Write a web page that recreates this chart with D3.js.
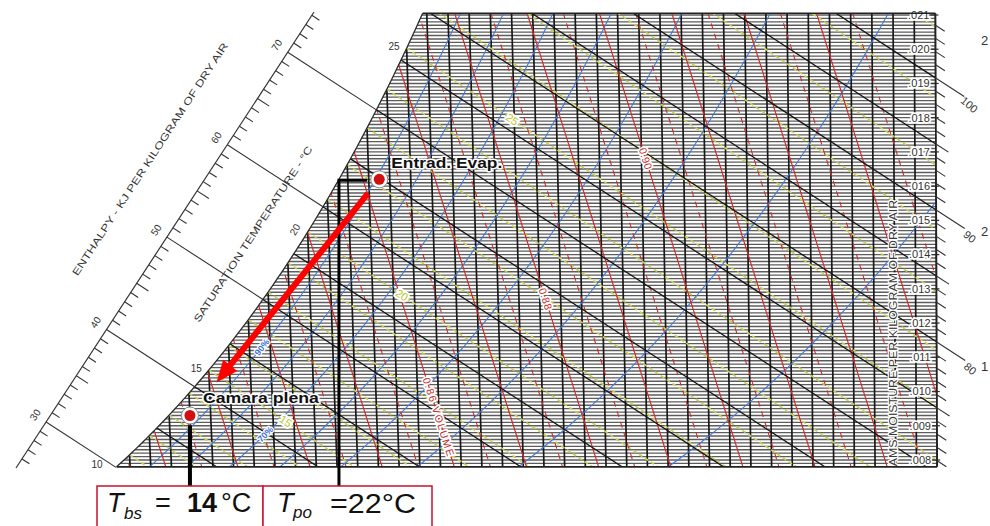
<!DOCTYPE html>
<html>
<head>
<meta charset="utf-8">
<script src="https://cdn.jsdelivr.net/npm/d3@7"></script>
<style>
  body { margin: 0; background: #fff; }
  svg { display: block; }
  text { font-family: "Liberation Sans", Arial, sans-serif; }
</style>
</head>
<body>
<svg id="chart" width="990" height="526"></svg>
<script>
// ---------- chart values ----------
const dryBulbC = d3.range(10, 51);                       // isotherms, every 1 °C
const humidityGrid = d3.range(78, 211).map(i => i / 10000); // fine rules, every 0.0001 kg/kg
const humidityTicks = [0.008, 0.009, 0.010, 0.011, 0.012, 0.013, 0.014, 0.015, 0.016, 0.017, 0.018, 0.019, 0.020, 0.021];
const humidityTickLabels = [".008", ".009", ".010", ".011", ".012", ".013", ".014", ".015", ".016", ".017", ".018", ".019", ".020", ".021"];
const enthalpyLines = [30, 35, 40, 45, 50, 55, 60, 65, 70, 75, 80, 85, 90, 95, 100, 105];
const enthalpyScaleLeft = d3.range(25, 81);               // kJ/kg ticks on the left scale
const enthalpyLabelsLeft = [30, 40, 50, 60, 70];
const enthalpyScaleRight = d3.range(70, 106);             // kJ/kg ticks on the right scale
const enthalpyLabelsRight = [80, 90, 100];
const rhValues = [0.1, 0.2, 0.3, 0.4, 0.5, 0.6, 0.7, 0.8, 0.9];
const rhLabelValues = [0.9, 0.7];
const rhLabelText = ["90%", "70%"];
const volumeSolid = [0.81, 0.82, 0.83, 0.84, 0.85, 0.86, 0.87, 0.88, 0.89, 0.90, 0.91, 0.92, 0.93];
const volumeDashed = [0.815, 0.825, 0.835, 0.845, 0.855, 0.865, 0.875, 0.885, 0.895, 0.905, 0.915, 0.925, 0.935];
const volumeLabelValues = [0.86, 0.88, 0.90];
const volumeLabelText = ["0.86 VOLUME", "0.88", "0.90"];
const wetBulbC = d3.range(8, 34);
const wetBulbLabelValues = [15, 20, 25];
const satLabelValues = [10, 15, 20, 25];
const rightCutLabels = ["2", "2", "1"];

// process states
const stateNames = ["Entrad. Evap.", "Camara plena"];
const stateTdb = [23.5, 14];
const stateW = [0.0162, 0.0093];
const tbsValue = 14;

// ---------- psychrometrics (sea level) ----------
const P = 101.325;
const pws = T => 0.61094 * Math.exp(17.625 * T / (T + 243.04));
const wSat = T => 0.622 * pws(T) / (P - pws(T));
const wRH = (T, rh) => 0.622 * rh * pws(T) / (P - rh * pws(T));
const wEnth = (h, T) => (h - 1.006 * T) / (2501 + 1.86 * T);
const wWet = (T, tw) => ((2501 - 2.326 * tw) * wSat(tw) - 1.006 * (T - tw)) / (2501 + 1.86 * T - 4.186 * tw);
const tVol = (v, W) => v * P / (0.287042 * (1 + 1.6078 * W)) - 273.15;
const hSat = T => 1.006 * T + wSat(T) * (2501 + 1.86 * T);
function bisect(f, target, lo, hi) {
  for (let i = 0; i < 60; i++) { const m = (lo + hi) / 2; if (f(m) < target) lo = m; else hi = m; }
  return (lo + hi) / 2;
}
const tSat = W => bisect(wSat, W, -20, 70);
const tSatH = h => bisect(hSat, h, -20, 70);

// ---------- scales (oblique enthalpy construction) ----------
const yScale = d3.scaleLinear().domain([0.008, 0.021]).range([460, 15]);
const xScale = d3.scaleLinear().domain([10, 50]).range([122.2, 938.2]);
const kT = (xScale(50) - xScale(10)) / 40;
const skew = kT * 1.86 / 1.006;
const T_REF = 53.5;
const px = (T, W) => xScale(T) + skew * W * (T - T_REF);
const py = W => yScale(W);
const pt = (T, W) => [px(T, W), py(W)];

const W_BOT = 0.0078, W_TOP = 0.02105, T_MAX = 50;

const svg = d3.select("#chart");
const line = d3.line();
const deg = (a, b) => Math.atan2(b[1] - a[1], b[0] - a[0]) * 180 / Math.PI;
function halo(sel, w) {
  return sel.attr("paint-order", "stroke").attr("stroke", "#fff")
    .attr("stroke-width", w).attr("stroke-linejoin", "round");
}

// grid region bounded by the saturation curve
const tBot = tSat(W_BOT), tTop = tSat(W_TOP);
const satPts = d3.range(0, 81).map(i => { const T = tBot + (tTop - tBot) * i / 80; return pt(T, wSat(T)); });
const clipPts = satPts.concat([pt(T_MAX, W_TOP), pt(T_MAX, W_BOT)]);
svg.append("defs").append("clipPath").attr("id", "gridClip")
  .append("path").attr("d", line(clipPts) + "Z");

const grid = svg.append("g").attr("clip-path", "url(#gridClip)");

// fine humidity-ratio rules
grid.append("g").selectAll("line").data(humidityGrid).join("line")
  .attr("x1", 60).attr("x2", 960)
  .attr("y1", d => py(d)).attr("y2", d => py(d))
  .attr("stroke", "#5c5c5c").attr("stroke-width", 1.35);

// dry-bulb isotherms
grid.append("g").selectAll("line").data(dryBulbC).join("line")
  .attr("x1", d => px(d, W_BOT)).attr("y1", py(W_BOT))
  .attr("x2", d => px(d, W_TOP)).attr("y2", py(W_TOP))
  .attr("stroke", "#1a1a1a").attr("stroke-width", 1.7);

// wet-bulb lines
grid.append("g").selectAll("path").data(wetBulbC).join("path")
  .attr("d", tw => line(d3.range(0, 31).map(i => { const T = tw + (T_MAX + 2 - tw) * i / 30; return pt(T, wWet(T, tw)); })))
  .attr("fill", "none").attr("stroke", "#c6cf52").attr("stroke-width", 1.7)
  .attr("stroke-dasharray", "4 3");

// relative humidity curves
grid.append("g").selectAll("path").data(rhValues).join("path")
  .attr("d", rh => line(d3.range(0, 61).map(i => { const T = 5 + 48 * i / 60; return pt(T, wRH(T, rh)); })))
  .attr("fill", "none").attr("stroke", "#4277d6").attr("stroke-width", 1.1);

// specific volume lines
const volPath = v => line(d3.range(0, 21).map(i => { const W = W_BOT - 0.001 + (W_TOP - W_BOT + 0.002) * i / 20; return pt(tVol(v, W), W); }));
grid.append("g").selectAll("path").data(volumeSolid).join("path")
  .attr("d", volPath).attr("fill", "none").attr("stroke", "#cf2a2a").attr("stroke-width", 1.2);
grid.append("g").selectAll("path").data(volumeDashed).join("path")
  .attr("d", volPath).attr("fill", "none").attr("stroke", "#cf2a2a").attr("stroke-width", 1.1)
  .attr("stroke-dasharray", "6 5");

// enthalpy lines
grid.append("g").selectAll("line").data(enthalpyLines).join("line")
  .attr("x1", h => pt(-5, wEnth(h, -5))[0]).attr("y1", h => pt(-5, wEnth(h, -5))[1])
  .attr("x2", h => pt(60, wEnth(h, 60))[0]).attr("y2", h => pt(60, wEnth(h, 60))[1])
  .attr("stroke", "#151515").attr("stroke-width", 1.3);

// volume labels
volumeLabelValues.forEach((v, i) => {
  const W = [0.0104, 0.0127, 0.0168][i];
  const a = pt(tVol(v, W), W), b = pt(tVol(v, W - 0.0005), W - 0.0005);
  const t = grid.append("text").attr("transform", `translate(${a[0]},${a[1]}) rotate(${deg(a, b)})`)
    .attr("font-size", 10.5).attr("fill", "#c92a2a").attr("letter-spacing", i === 0 ? 1.4 : 0.5)
    .attr("text-anchor", i === 0 ? "start" : "middle").attr("dy", "0.35em").text(volumeLabelText[i]);
  halo(t, 3.5);
});

// relative humidity labels
rhLabelValues.forEach((rh, i) => {
  const T = 17.6;
  const a = pt(T, wRH(T, rh)), b = pt(T + 0.5, wRH(T + 0.5, rh));
  const t = grid.append("text").attr("transform", `translate(${a[0]},${a[1]}) rotate(${deg(a, b)})`)
    .attr("font-size", 9).attr("font-weight", "bold").attr("fill", "#3f72d6")
    .attr("text-anchor", "middle").attr("dy", "0.35em").text(rhLabelText[i]);
  halo(t, 2.5);
});

// wet-bulb labels
const wbLabelOffset = [3.6, 4.4, 4.9];
wetBulbLabelValues.forEach((tw, i) => {
  const T = tw + wbLabelOffset[i];
  const a = pt(T, wWet(T, tw)), b = pt(T + 0.5, wWet(T + 0.5, tw));
  const t = grid.append("text").attr("transform", `translate(${a[0]},${a[1]}) rotate(${deg(a, b)})`)
    .attr("font-size", 11).attr("fill", "#b9c62e")
    .attr("text-anchor", "middle").attr("dy", "0.35em").text(tw);
  halo(t, 4);
});

// humidity ratio axis title
const hrTitle = grid.append("text")
  .attr("transform", `translate(${px(T_MAX, W_BOT) - 40},${py(W_BOT) + 18}) rotate(-90)`)
  .attr("font-size", 10.5).attr("fill", "#3a3a3a")
  .attr("textLength", 285).attr("lengthAdjust", "spacingAndGlyphs")
  .text("GRAMS MOISTURE PER KILOGRAM OF DRY AIR");
halo(hrTitle, 2.5);

// humidity ratio tick labels
humidityTicks.forEach((W, i) => {
  const xr = px(T_MAX, W);
  const t = svg.append("text").attr("x", xr - 6).attr("y", py(W)).attr("dy", "0.35em")
    .attr("text-anchor", "end").attr("font-size", 11).attr("fill", "#333")
    .text(humidityTickLabels[i]);
  halo(t, 3.5);
  svg.append("line").attr("x1", xr - 5).attr("x2", xr + 3).attr("y1", py(W)).attr("y2", py(W))
    .attr("stroke", "#333").attr("stroke-width", 1.2);
});

// grid outline
svg.append("path").attr("d", line(satPts)).attr("fill", "none").attr("stroke", "#2a2a2a").attr("stroke-width", 1.3);
svg.append("line").attr("x1", pt(tTop, W_TOP)[0]).attr("y1", py(W_TOP)).attr("x2", px(T_MAX, W_TOP)).attr("y2", py(W_TOP))
  .attr("stroke", "#222").attr("stroke-width", 1.6);
svg.append("line").attr("x1", pt(tBot, W_BOT)[0]).attr("y1", py(W_BOT)).attr("x2", px(T_MAX, W_BOT)).attr("y2", py(W_BOT))
  .attr("stroke", "#222").attr("stroke-width", 1.6);
svg.append("line").attr("x1", px(T_MAX, W_BOT)).attr("y1", py(W_BOT)).attr("x2", px(T_MAX, W_TOP)).attr("y2", py(W_TOP))
  .attr("stroke", "#222").attr("stroke-width", 1.8);

// ---------- left enthalpy scale ----------
const L1 = [16, 468], L2 = [314, 12];
const scaleG = svg.append("g");
scaleG.append("line").attr("x1", L1[0]).attr("y1", L1[1]).attr("x2", L2[0]).attr("y2", L2[1])
  .attr("stroke", "#333").attr("stroke-width", 1.2);
function hLine(h) { return [pt(-5, wEnth(h, -5)), pt(60, wEnth(h, 60))]; }
function unit(a, b) { const dx = b[0] - a[0], dy = b[1] - a[1], n = Math.hypot(dx, dy); return [dx / n, dy / n]; }
function intersectBase(h) {
  const [p1, p2] = hLine(h);
  const r = [p2[0] - p1[0], p2[1] - p1[1]], s = [L2[0] - L1[0], L2[1] - L1[1]];
  const den = r[0] * s[1] - r[1] * s[0];
  const q = [L1[0] - p1[0], L1[1] - p1[1]];
  const u = (q[0] * r[1] - q[1] * r[0]) / den;
  return { u, p: [L1[0] + u * s[0], L1[1] + u * s[1]] };
}
const baseDir = unit(L1, L2);
const baseNormal = [baseDir[1], -baseDir[0]];   // points away from the chart
const baseAngle = deg(L1, L2);
enthalpyScaleLeft.forEach(h => {
  const { u, p } = intersectBase(h);
  if (u < 0 || u > 1) return;
  const d = unit(...hLine(h));
  if (enthalpyLabelsLeft.includes(h)) {
    const Ts = tSatH(h), s = pt(Ts, wSat(Ts));
    scaleG.append("line").attr("x1", p[0]).attr("y1", p[1]).attr("x2", s[0]).attr("y2", s[1])
      .attr("stroke", "#333").attr("stroke-width", 1.1);
    scaleG.append("text")
      .attr("transform", `translate(${p[0] + baseNormal[0] * 13},${p[1] + baseNormal[1] * 13}) rotate(${baseAngle})`)
      .attr("text-anchor", "middle").attr("dy", "0.35em").attr("font-size", 10).attr("fill", "#333").text(h);
  } else {
    const len = h % 5 === 0 ? 14 : 9;
    scaleG.append("line").attr("x1", p[0]).attr("y1", p[1]).attr("x2", p[0] + d[0] * len).attr("y2", p[1] + d[1] * len)
      .attr("stroke", "#333").attr("stroke-width", 1.1);
  }
});
scaleG.append("text").attr("transform", `translate(153,161) rotate(${baseAngle})`)
  .attr("text-anchor", "middle").attr("font-size", 10).attr("fill", "#333")
  .attr("textLength", 276).attr("lengthAdjust", "spacingAndGlyphs")
  .text("ENTHALPY - KJ PER KILOGRAM OF DRY AIR");
scaleG.append("text").attr("transform", `translate(256,236) rotate(${baseAngle})`)
  .attr("text-anchor", "middle").attr("font-size", 10).attr("fill", "#333")
  .attr("textLength", 208).attr("lengthAdjust", "spacingAndGlyphs")
  .text("SATURATION TEMPERATURE - °C");

// saturation temperature labels
satLabelValues.forEach(T => {
  const s = pt(T, wSat(T));
  const t = svg.append("text").attr("x", s[0] - 7).attr("y", Math.min(s[1], py(W_BOT)) - 2)
    .attr("text-anchor", "end").attr("dy", "0.35em").attr("font-size", 10).attr("fill", "#333").text(T);
  if (T === 20) t.attr("transform", `rotate(-60,${s[0] - 13},${s[1] - 2})`);
});

// ---------- right enthalpy scale ----------
enthalpyScaleRight.forEach(h => {
  const W = wEnth(h, T_MAX);
  if (W < W_BOT || W > W_TOP) return;
  const e = pt(T_MAX, W), d = unit(...hLine(h));
  const len = enthalpyLabelsRight.includes(h) ? 34 : (h % 5 === 0 ? 15 : 11);
  svg.append("line").attr("x1", e[0]).attr("y1", e[1]).attr("x2", e[0] + d[0] * len).attr("y2", e[1] + d[1] * len)
    .attr("stroke", "#333").attr("stroke-width", 1.1);
  if (enthalpyLabelsRight.includes(h)) {
    svg.append("text").attr("transform", `translate(${e[0] + d[0] * 40},${e[1] + d[1] * 40 + 5}) rotate(40)`)
      .attr("text-anchor", "middle").attr("dy", "0.35em").attr("font-size", 11).attr("fill", "#333").text(h);
  }
});
rightCutLabels.forEach((s, i) => {
  svg.append("text").attr("x", 981).attr("y", [45, 236, 371][i]).attr("font-size", 13).attr("fill", "#333").text(s);
});

// ---------- process annotations ----------
const pIn = pt(stateTdb[0], stateW[0]);
const pOut = pt(stateTdb[1], stateW[1]);
const tDew = tSat(stateW[0]);
const xDew = px(tDew, stateW[0]);
const BOX_TOP = 486;

// dew point and dry-bulb leaders
svg.append("path").attr("d", line([[pIn[0] - 12, pIn[1] + 1], [xDew, pIn[1] + 1], [xDew, BOX_TOP]]))
  .attr("fill", "none").attr("stroke", "#000").attr("stroke-width", 3);
svg.append("line").attr("x1", px(tbsValue, stateW[1])).attr("y1", pOut[1] + 10)
  .attr("x2", px(tbsValue, stateW[1])).attr("y2", BOX_TOP)
  .attr("stroke", "#000").attr("stroke-width", 4);

// process arrow
const lerp = (a, b, t) => [a[0] + (b[0] - a[0]) * t, a[1] + (b[1] - a[1]) * t];
const aStart = lerp(pIn, pOut, 0.06), aEnd = lerp(pIn, pOut, 0.86);
const ad = unit(aStart, aEnd), an = [-ad[1], ad[0]];
const headLen = 22, headW = 9;
const hb = [aEnd[0] - ad[0] * headLen, aEnd[1] - ad[1] * headLen];
svg.append("line").attr("x1", aStart[0]).attr("y1", aStart[1]).attr("x2", hb[0] + ad[0] * 3).attr("y2", hb[1] + ad[1] * 3)
  .attr("stroke", "#f00").attr("stroke-width", 6);
svg.append("path").attr("d", line([aEnd, [hb[0] + an[0] * headW, hb[1] + an[1] * headW], [hb[0] - an[0] * headW, hb[1] - an[1] * headW]]) + "Z")
  .attr("fill", "#f00");

// state markers
[pIn, pOut].forEach(p => {
  svg.append("circle").attr("cx", p[0]).attr("cy", p[1]).attr("r", 8.5).attr("fill", "#fff").attr("stroke", "#8a8a8a").attr("stroke-width", 1);
  svg.append("circle").attr("cx", p[0]).attr("cy", p[1]).attr("r", 5.5).attr("fill", "#d10f0f");
});
halo(svg.append("text").attr("x", pIn[0] + 12).attr("y", pIn[1] - 11).attr("font-size", 15).attr("font-weight", "bold")
  .attr("font-family", "'DejaVu Sans', sans-serif").attr("fill", "#111")
  .attr("textLength", 111).attr("lengthAdjust", "spacingAndGlyphs").text(stateNames[0]), 3);
halo(svg.append("text").attr("x", pOut[0] + 13).attr("y", pOut[1] - 13).attr("font-size", 15).attr("font-weight", "bold")
  .attr("font-family", "'DejaVu Sans', sans-serif").attr("fill", "#111")
  .attr("textLength", 116).attr("lengthAdjust", "spacingAndGlyphs").text(stateNames[1]), 3);

// value boxes
const boxes = [[97, 166], [263, 169]];
boxes.forEach(([x, w]) => svg.append("rect").attr("x", x).attr("y", BOX_TOP).attr("width", w).attr("height", 46)
  .attr("fill", "#fff").attr("stroke", "#c8102e").attr("stroke-width", 1.5));
const serif = "'Liberation Serif', 'DejaVu Serif', serif";
const b1 = svg.append("g").attr("fill", "#111");
b1.append("text").attr("x", 107).attr("y", 512).attr("font-size", 27).attr("font-style", "italic").attr("font-family", serif).text("T");
b1.append("text").attr("x", 124).attr("y", 519).attr("font-size", 17).attr("font-style", "italic").attr("font-family", serif).text("bs");
b1.append("text").attr("x", 155).attr("y", 512).attr("font-size", 27).attr("font-family", serif).text("=");
b1.append("text").attr("x", 187).attr("y", 512).attr("font-size", 27).attr("font-weight", "bold").attr("font-family", serif).text(tbsValue);
b1.append("text").attr("x", 221).attr("y", 512).attr("font-size", 27).attr("font-family", serif).text("°C");
const b2 = svg.append("g").attr("fill", "#111");
b2.append("text").attr("x", 277).attr("y", 512).attr("font-size", 27).attr("font-style", "italic").attr("font-family", serif).text("T");
b2.append("text").attr("x", 293).attr("y", 518).attr("font-size", 17).attr("font-style", "italic").attr("font-family", serif).text("po");
b2.append("text").attr("x", 330).attr("y", 513).attr("font-size", 27).attr("font-family", "'Liberation Sans', sans-serif")
  .attr("textLength", 86).attr("lengthAdjust", "spacingAndGlyphs").text("=" + Math.round(tDew) + "°C");
</script>
</body>
</html>
